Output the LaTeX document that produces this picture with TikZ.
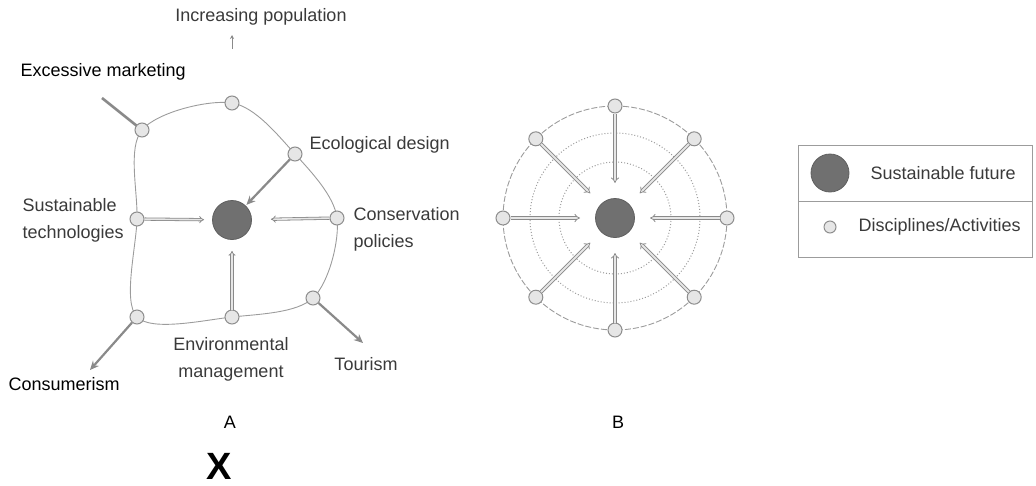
\documentclass[tikz,border=0pt]{standalone}
\usepackage{fontspec}
\setmainfont{Liberation Sans}
\usetikzlibrary{arrows.meta}
\definecolor{inkgray}{HTML}{3A3A3A}
\definecolor{linegray}{HTML}{9C9C9C}
\definecolor{nodefill}{HTML}{E6E6E6}
\definecolor{nodeedge}{HTML}{8E8E8E}
\definecolor{corefill}{HTML}{707070}
\definecolor{arrowgray}{HTML}{8A8A8A}

\begin{document}
\begin{tikzpicture}[x=1pt,y=-1pt,
  every node/.style={font=\fontsize{18}{27}\selectfont},
  disc/.style={circle,draw=nodeedge,fill=nodefill,line width=1pt,minimum size=14pt,inner sep=0pt},
  core/.style={circle,draw=corefill!85!black,fill=corefill,line width=0.8pt,minimum size=39pt,inner sep=0pt},
  scanlabel/.style={text=inkgray},
  plainlabel/.style={text=black},
  ring/.style={draw=linegray,line width=0.9pt},
  dotring/.style={draw=linegray,line width=1pt,dotted},
  pusharrow/.style={draw=arrowgray,line width=2.2pt,-{Stealth[length=9pt,width=8pt]}},
  hollowarrow/.style={draw=arrowgray,double=nodefill,double distance=1.6pt,line width=0.8pt,-{Implies}},
  smallarrow/.style={draw=arrowgray,line width=1pt,-{Stealth[length=4pt,width=4pt]}},
]
\useasboundingbox (0,0) rectangle (1036,485);

% ---------- A: closed loop of disciplines round a sustainable future ----------
\coordinate (pTL) at (142,130);
\coordinate (pT)  at (232,103);
\coordinate (pE)  at (295,154);
\coordinate (pR)  at (337,218);
\coordinate (pBR) at (313,298);
\coordinate (pB)  at (232,317);
\coordinate (pBL) at (137,317);
\coordinate (pL)  at (137,219);
\draw[ring] plot[smooth cycle, tension=0.55] coordinates {(pTL) (pT) (pE) (pR) (pBR) (pB) (pBL) (pL)};

% outward pressures
\coordinate (xmEnd) at (102,98);
\coordinate (consEnd) at (90,370);
\coordinate (tourEnd) at (363,343);
\draw[draw=arrowgray,line width=2.6pt] (pTL) -- (xmEnd);

\node[disc] (aTL) at (pTL) {};
\node[disc] (aT)  at (pT)  {};
\node[disc] (aE)  at (pE)  {};
\node[disc] (aR)  at (pR)  {};
\node[disc] (aBR) at (pBR) {};
\node[disc] (aB)  at (pB)  {};
\node[disc] (aBL) at (pBL) {};
\node[disc] (aL)  at (pL)  {};
\node[core] (aC) at (232,220) {};

\draw[pusharrow,shorten >=1pt] (aE) -- (aC);
\draw[hollowarrow,shorten >=8pt] (aL) -- (aC);
\draw[hollowarrow,shorten >=19pt] (aR) -- (aC);
\draw[hollowarrow,shorten >=11pt] (aB) -- (aC);
\draw[pusharrow] (aBL) -- (consEnd);
\draw[pusharrow] (aBR) -- (tourEnd);

\node[scanlabel] (ip) at (261,17) {Increasing population};
\coordinate (ipFoot) at (232,49);
\coordinate (ipTip) at (232,35);
\draw[smallarrow] (ipFoot) -- (ipTip);

\node[plainlabel,anchor=west] (em) at (17,72) {Excessive marketing};
\node[scanlabel,anchor=west] (ed) at (306,145) {Ecological design};
\node[scanlabel,anchor=west,align=left] (st) at (19,220) {Sustainable\\technologies};
\node[scanlabel,anchor=west,align=left] (cp) at (350,229) {Conservation\\policies};
\node[scanlabel,align=center] (envm) at (231,359) {Environmental\\management};
\node[scanlabel] (tour) at (366,364) {Tourism};
\node[plainlabel,anchor=west] (cons) at (5,384) {Consumerism};

% ---------- B: concentric rings converging on the centre ----------
\coordinate (bO) at (615,218);
\draw[ring,dash pattern=on 6pt off 2pt] (bO) circle[radius=112];
\draw[dotring] (bO) circle[radius=85];
\draw[dotring] (bO) circle[radius=56];
\node[core] (bC) at (bO) {};
\foreach \a [count=\i] in {0,45,...,315} {
  \path (bO) ++(\a:112) node[disc] (b\i) {};
  \path (bO) ++(\a:35) coordinate (t\i);
  \draw[hollowarrow,double distance=2pt] (b\i) -- (t\i);
}

% ---------- captions ----------
\node[plainlabel] (la) at (230,422) {A};
\node[plainlabel] (lb) at (618,422) {B};
\node[plainlabel,inner sep=0pt,font=\fontsize{38}{42}\selectfont\bfseries] (lx) at (219,466) {X};

% ---------- legend ----------
\node[draw=linegray,line width=0.8pt,minimum width=234pt,minimum height=112pt,anchor=north west,inner sep=0pt] (leg) at (798,145) {};
\coordinate (divL) at (798,201);
\coordinate (divR) at (1032,201);
\draw[draw=linegray,line width=0.8pt] (divL) -- (divR);
\node[core,minimum size=38pt] (lgC) at (830,173) {};
\node[scanlabel,anchor=west] (lgCt) at (867,173) {Sustainable future};
\node[disc,minimum size=12pt] (lgD) at (830,227) {};
\node[scanlabel,anchor=west] (lgDt) at (855,227) {Disciplines/Activities};
\end{tikzpicture}
\end{document}
